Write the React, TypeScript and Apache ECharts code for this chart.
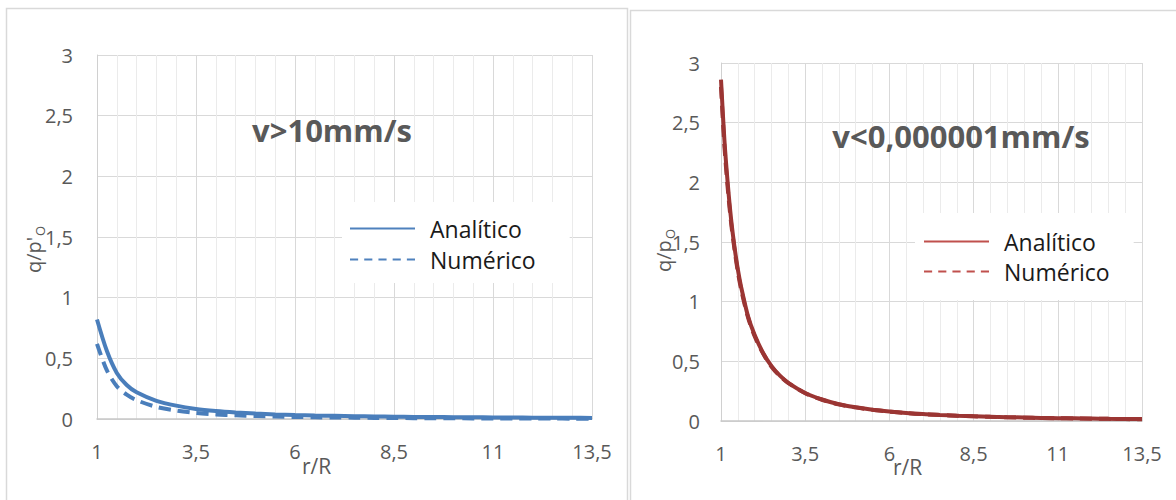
import React, { useEffect, useRef } from "react";
import * as echarts from "echarts";

// ---- data ----
const rLeft = [1, 1.25, 1.5, 1.75, 2, 2.5, 3, 3.5, 4, 4.5, 5, 5.5, 6, 6.5, 7, 7.5, 8, 8.5, 9, 9.5, 10, 10.5, 11, 11.5, 12, 12.5, 13, 13.5];
const leftAnalitico = [0.82, 0.56, 0.38, 0.28, 0.22, 0.15, 0.11, 0.083, 0.066, 0.054, 0.045, 0.038, 0.033, 0.029, 0.026, 0.023, 0.021, 0.019, 0.017, 0.016, 0.015, 0.014, 0.013, 0.012, 0.011, 0.011, 0.01, 0.009];
const leftNumerico = [0.62, 0.4, 0.27, 0.2, 0.155, 0.1, 0.07, 0.05, 0.038, 0.03, 0.024, 0.02, 0.017, 0.014, 0.012, 0.011, 0.009, 0.008, 0.007, 0.006, 0.006, 0.005, 0.005, 0.004, 0.004, 0.004, 0.003, 0.003];

const rRight = [1, 1.1, 1.2, 1.3, 1.4, 1.5, 1.6, 1.8, 2, 2.25, 2.5, 2.75, 3, 3.5, 4, 4.5, 5, 5.5, 6, 6.5, 7, 7.5, 8, 8.5, 9, 9.5, 10, 10.5, 11, 11.5, 12, 12.5, 13, 13.5];
const rightAnalitico = [2.86, 2.36, 1.99, 1.69, 1.46, 1.27, 1.12, 0.88, 0.72, 0.57, 0.46, 0.38, 0.32, 0.235, 0.18, 0.14, 0.115, 0.095, 0.08, 0.068, 0.058, 0.051, 0.045, 0.04, 0.035, 0.032, 0.029, 0.026, 0.024, 0.022, 0.02, 0.018, 0.017, 0.016];
const rightNumerico = [2.8, 2.31, 1.95, 1.66, 1.44, 1.25, 1.1, 0.87, 0.71, 0.565, 0.455, 0.377, 0.318, 0.233, 0.178, 0.139, 0.114, 0.094, 0.079, 0.067, 0.057, 0.05, 0.044, 0.039, 0.035, 0.031, 0.028, 0.025, 0.023, 0.021, 0.019, 0.018, 0.016, 0.015];

const xTicks = { min: 1, max: 13.5, interval: 2.5 };
const yTicks = { min: 0, max: 3, interval: 0.5 };

const leftTitle = "v>10mm/s";
const rightTitle = "v<0,000001mm/s";
const seriesNames = ["Analítico", "Numérico"];

const FONT = "'Open Sans', 'Noto Sans', sans-serif";
const LABEL_COLOR = "#595959";

const pairs = (xs: number[], ys: number[]) => xs.map((x, i) => [x, ys[i]]);
const comma = (v: number) => String(v).replace(".", ",");

function makeXAxis(gridIndex: number) {
  return {
    type: "value",
    gridIndex,
    min: xTicks.min,
    max: xTicks.max,
    interval: xTicks.interval,
    axisLine: { show: true, lineStyle: { color: "#c8c8c8", width: 1.5 } },
    axisTick: { show: false },
    axisLabel: { color: LABEL_COLOR, fontFamily: FONT, fontSize: 20, margin: 22, formatter: comma },
    splitLine: { show: true, lineStyle: { color: "#d9d9d9", width: 1 } },
    minorTick: { show: false, splitNumber: 5 },
    minorSplitLine: { show: true, lineStyle: { color: "#ebebeb", width: 1 } },
  };
}
function makeYAxis(gridIndex: number, margin: number) {
  return {
    type: "value",
    gridIndex,
    min: yTicks.min,
    max: yTicks.max,
    interval: yTicks.interval,
    axisLine: { show: true, lineStyle: { color: "#d0d0d0", width: 1 } },
    axisTick: { show: false },
    axisLabel: { color: LABEL_COLOR, fontFamily: FONT, fontSize: 20, margin, formatter: comma },
    splitLine: { show: true, lineStyle: { color: "#d9d9d9", width: 1 } },
  };
}

const solidIcon = "path://M0,6L65,6L65,8L0,8Z";
const dashIcon = "path://M0,6L8,6L8,8L0,8ZM14,6L22,6L22,8L14,8ZM28,6L36,6L36,8L28,8ZM42,6L50,6L50,8L42,8ZM56,6L64,6L64,8L56,8Z";

export default function App() {
  const ref = useRef<HTMLDivElement>(null);
  useEffect(() => {
    document.body.style.margin = "0";
    if (!ref.current) return;
    const chart = echarts.init(ref.current, undefined, { renderer: "svg" });
    const blue = "#4a7ebb";
    const blueLegend = "#4f81bd";
    const red = "#9b3533";
    const redLegend = "#c0504d";
    const option: any = {
      animation: false,
      backgroundColor: "#ffffff",
      grid: [
        { left: 97, top: 55, width: 495, height: 364 },
        { left: 721, top: 63, width: 421, height: 358 },
      ],
      xAxis: [makeXAxis(0), makeXAxis(1)],
      yAxis: [makeYAxis(0, 24), makeYAxis(1, 21)],
      legend: [
        {
          orient: "vertical",
          left: 342,
          top: 202,
          padding: [15, 34, 12, 8],
          backgroundColor: "#ffffff",
          itemWidth: 65,
          itemHeight: 14,
          itemGap: 8,
          selectedMode: false,
          textStyle: { fontFamily: FONT, fontSize: 23, color: "#1a1a1a", padding: [0, 0, 0, 10] },
          data: [
            { name: seriesNames[0], icon: solidIcon, itemStyle: { color: blueLegend } },
            { name: seriesNames[1], icon: dashIcon, itemStyle: { color: blueLegend } },
          ],
        },
        {
          orient: "vertical",
          left: 915,
          top: 213,
          padding: [17, 24, 17, 9],
          backgroundColor: "#ffffff",
          itemWidth: 65,
          itemHeight: 14,
          itemGap: 7,
          selectedMode: false,
          textStyle: { fontFamily: FONT, fontSize: 23, color: "#1a1a1a", padding: [0, 0, 0, 10] },
          data: [
            { name: seriesNames[0], icon: solidIcon, itemStyle: { color: redLegend } },
            { name: seriesNames[1], icon: dashIcon, itemStyle: { color: redLegend } },
          ],
        },
      ],
      series: [
        {
          name: seriesNames[0], type: "line", xAxisIndex: 0, yAxisIndex: 0, symbol: "none", smooth: 0.3,
          data: pairs(rLeft, leftAnalitico), lineStyle: { color: blue, width: 4 }, itemStyle: { color: blue }, z: 3,
        },
        {
          name: seriesNames[1], type: "line", xAxisIndex: 0, yAxisIndex: 0, symbol: "none", smooth: 0.3,
          data: pairs(rLeft, leftNumerico), lineStyle: { color: blue, width: 4, type: [12, 7] }, itemStyle: { color: blue }, z: 2,
        },
        {
          name: seriesNames[0], type: "line", xAxisIndex: 1, yAxisIndex: 1, symbol: "none", smooth: 0.3,
          data: pairs(rRight, rightAnalitico), lineStyle: { color: red, width: 4 }, itemStyle: { color: red }, z: 3,
        },
        {
          name: seriesNames[1], type: "line", xAxisIndex: 1, yAxisIndex: 1, symbol: "none", smooth: 0.3,
          data: pairs(rRight, rightNumerico), lineStyle: { color: red, width: 4, type: [12, 7] }, itemStyle: { color: red }, z: 2,
        },
      ],
      graphic: [
        { type: "rect", z: -10, shape: { x: 6.5, y: 8.5, width: 621, height: 520 }, style: { fill: "none", stroke: "#d9d9d9", lineWidth: 1.5 } },
        { type: "rect", z: -10, shape: { x: 630.5, y: 10.5, width: 560, height: 520 }, style: { fill: "none", stroke: "#d9d9d9", lineWidth: 1.5 } },
        { type: "text", x: 332, y: 130, z: 10, style: { text: leftTitle, font: `bold 31px ${FONT}`, fill: LABEL_COLOR, textAlign: "center", textVerticalAlign: "middle" } },
        { type: "text", x: 961, y: 136, z: 10, style: { text: rightTitle, font: `bold 31px ${FONT}`, fill: LABEL_COLOR, textAlign: "center", textVerticalAlign: "middle" } },
        { type: "text", x: 302, y: 466, z: 10, style: { text: "r/R", font: `21px ${FONT}`, fill: LABEL_COLOR, textAlign: "left", textVerticalAlign: "middle" } },
        { type: "text", x: 893, y: 467, z: 10, style: { text: "r/R", font: `21px ${FONT}`, fill: LABEL_COLOR, textAlign: "left", textVerticalAlign: "middle" } },
        {
          type: "group", x: 33, y: 273, rotation: Math.PI / 2, z: 10,
          children: [
            { type: "text", x: 0, y: 0, style: { text: "q/p'", font: `20px ${FONT}`, fill: LABEL_COLOR, textAlign: "left", textVerticalAlign: "middle" } },
            { type: "text", x: 37, y: 7, style: { text: "O", font: `13px ${FONT}`, fill: LABEL_COLOR, textAlign: "left", textVerticalAlign: "middle" } },
          ],
        },
        {
          type: "group", x: 663, y: 272, rotation: Math.PI / 2, z: 10,
          children: [
            { type: "text", x: 0, y: 0, style: { text: "q/p", font: `20px ${FONT}`, fill: LABEL_COLOR, textAlign: "left", textVerticalAlign: "middle" } },
            { type: "text", x: 33, y: 7, style: { text: "O", font: `13px ${FONT}`, fill: LABEL_COLOR, textAlign: "left", textVerticalAlign: "middle" } },
          ],
        },
      ],
    };
    chart.setOption(option);
    return () => chart.dispose();
  }, []);
  return <div ref={ref} style={{ width: 1176, height: 500 }} />;
}
